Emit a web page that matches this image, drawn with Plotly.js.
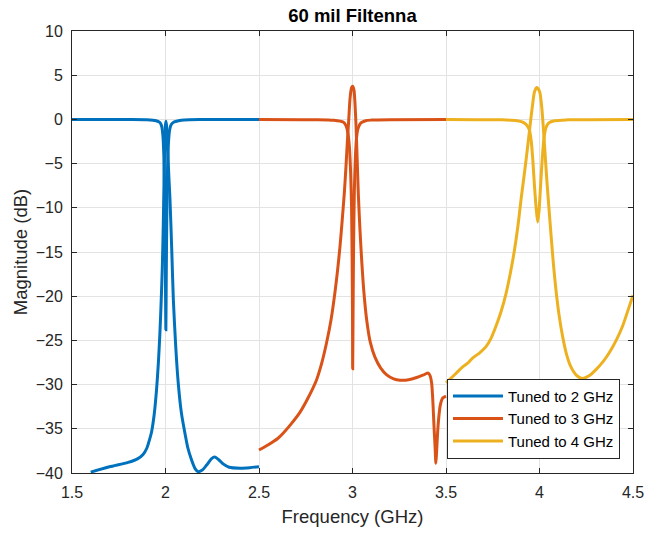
<!DOCTYPE html>
<html>
<head>
<meta charset="utf-8">
<script src="https://cdn.plot.ly/plotly-3.0.1.min.js"></script>
<style>html,body{margin:0;padding:0;background:#fff;}#chart{width:646px;height:534px;}</style>
</head>
<body>
<div id="chart"></div>
<script>
// Tuned to 2 GHz
const f2S11 = [1.5, 1.8, 1.9, 1.95, 1.97, 1.98, 1.986, 1.991, 1.995, 1.998, 2.0, 2.002, 2.004, 2.007, 2.011, 2.016, 2.022, 2.03, 2.045, 2.07, 2.1, 2.2, 2.5];
const m2S11 = [0, -0.02, -0.05, -0.15, -0.35, -0.8, -1.8, -4, -8, -14, -19, -23.8, -18, -11, -5.5, -2.6, -1.2, -0.6, -0.3, -0.15, -0.06, -0.02, 0];
const f2S21 = [1.6, 1.7, 1.8, 1.85, 1.88, 1.9, 1.915, 1.926, 1.94, 1.952, 1.962, 1.97, 1.977, 1.983, 1.988, 1.992, 1.996, 2.0, 2.003, 2.007, 2.012, 2.018, 2.024, 2.033, 2.042, 2.055, 2.068, 2.085, 2.104, 2.12, 2.139, 2.158, 2.175, 2.195, 2.22, 2.245, 2.264, 2.285, 2.31, 2.34, 2.4, 2.45, 2.5];
const m2S21 = [-39.9, -39.3, -38.8, -38.4, -37.9, -37.2, -36.2, -35.3, -33.3, -30.6, -27.5, -24.2, -20.5, -16.7, -12, -7.2, -3, -0.6, -0.2, -1, -3.5, -6.5, -9.1, -14.5, -20.4, -25.8, -29.8, -33.2, -35.5, -37.2, -38.5, -39.5, -39.85, -39.7, -39.1, -38.4, -38.2, -38.5, -39.0, -39.35, -39.45, -39.4, -39.3];

// Tuned to 3 GHz
const f3S11 = [2.5, 2.8, 2.9, 2.95, 2.965, 2.975, 2.983, 2.99, 2.995, 2.998, 3.0, 3.001, 3.003, 3.006, 3.01, 3.016, 3.022, 3.03, 3.045, 3.07, 3.1, 3.2, 3.5];
const m3S11 = [0, -0.03, -0.1, -0.3, -0.7, -1.5, -3, -6, -10, -16, -22, -28.2, -22, -14, -8, -4, -2, -1, -0.4, -0.15, -0.08, -0.03, 0];
const f3S21 = [2.5, 2.55, 2.6, 2.629, 2.67, 2.717, 2.76, 2.807, 2.835, 2.861, 2.885, 2.906, 2.92, 2.933, 2.945, 2.956, 2.965, 2.972, 2.98, 2.987, 2.995, 3.001, 3.008, 3.014, 3.019, 3.025, 3.031, 3.04, 3.049, 3.06, 3.076, 3.095, 3.12, 3.15, 3.183, 3.22, 3.254, 3.3, 3.343, 3.38, 3.405, 3.415, 3.423, 3.428, 3.432, 3.437, 3.441, 3.446, 3.45, 3.455, 3.461, 3.468, 3.476, 3.483, 3.5];
const m3S21 = [-37.4, -36.8, -36.1, -35.5, -34.5, -33.2, -31.6, -29.5, -27.6, -25.3, -22.7, -19.6, -17.1, -14.4, -11.4, -8.4, -5.4, -2.7, 0, 2.4, 3.6, 3.75, 3.3, 1.5, -0.8, -4.5, -8.4, -12.5, -15.9, -19.3, -22.7, -25.2, -26.9, -28.1, -28.9, -29.35, -29.5, -29.45, -29.2, -28.9, -28.7, -29.0, -29.8, -31.2, -32.9, -35.2, -36.8, -38.9, -37.5, -35.5, -33.8, -32.5, -31.8, -31.5, -31.3];

// Tuned to 4 GHz
const f4S11 = [3.5, 3.8, 3.88, 3.91, 3.93, 3.946, 3.956, 3.964, 3.973, 3.982, 3.99, 3.997, 4.003, 4.01, 4.018, 4.026, 4.035, 4.05, 4.08, 4.15, 4.5];
const m4S11 = [0, -0.05, -0.15, -0.3, -0.6, -1.2, -2.5, -4.5, -7.5, -10, -11.6, -10.5, -8.5, -6, -3.5, -1.8, -0.9, -0.4, -0.15, -0.05, 0];
const f4S21 = [3.5, 3.55, 3.589, 3.62, 3.642, 3.68, 3.714, 3.74, 3.767, 3.795, 3.821, 3.845, 3.866, 3.885, 3.901, 3.915, 3.928, 3.942, 3.955, 3.965, 3.973, 3.985, 3.995, 4.003, 4.012, 4.02, 4.029, 4.038, 4.05, 4.061, 4.075, 4.088, 4.105, 4.124, 4.145, 4.168, 4.2, 4.23, 4.265, 4.302, 4.34, 4.373, 4.41, 4.444, 4.47, 4.5];
const m4S21 = [-29.8, -28.8, -28.0, -27.5, -27.0, -26.4, -25.7, -24.8, -23.4, -21.7, -19.7, -17.3, -14.8, -12.0, -9.1, -6.8, -4.6, -2.1, 0.3, 2.0, 3.1, 3.6, 3.4, 2.95, 1.4, -0.8, -3.6, -6.5, -9.9, -12.9, -16.5, -19.3, -22.2, -24.6, -26.6, -28.0, -29.0, -29.3, -29.0, -28.3, -27.4, -26.4, -25.0, -23.4, -21.8, -19.9];

const seriesNames = ['Tuned to 2 GHz', 'Tuned to 3 GHz', 'Tuned to 4 GHz'];
const xTicks = [1.5, 2, 2.5, 3, 3.5, 4, 4.5];
const xTickText = ['1.5', '2', '2.5', '3', '3.5', '4', '4.5'];
const yTicks = [10, 5, 0, -5, -10, -15, -20, -25, -30, -35, -40];

const colors = ['#0072BD', '#D95319', '#EDB120'];
const groups = [
  [f2S11, m2S11, f2S21, m2S21],
  [f3S11, m3S11, f3S21, m3S21],
  [f4S11, m4S11, f4S21, m4S21]
];
const traces = [];
groups.forEach((g, i) => {
  traces.push({x: g[0], y: g[1], type: 'scatter', mode: 'lines', name: seriesNames[i],
    legendgroup: 'g' + i, line: {color: colors[i], width: 3, shape: 'spline', smoothing: 0.7}});
  traces.push({x: g[2], y: g[3], type: 'scatter', mode: 'lines', name: seriesNames[i],
    legendgroup: 'g' + i, showlegend: false, line: {color: colors[i], width: 3, shape: 'spline', smoothing: 0.7}});
});

const FONT = 'Liberation Sans, Arial, Helvetica, sans-serif';
const axisCommon = {
  showline: true, linecolor: '#262626', linewidth: 1, mirror: 'ticks',
  ticks: 'inside', ticklen: 5, tickcolor: '#262626',
  showgrid: true, gridcolor: '#e3e3e3', gridwidth: 1, zeroline: false,
  tickfont: {family: FONT, size: 16, color: '#262626'}
};

const layout = {
  width: 646, height: 534,
  margin: {l: 72, r: 13, t: 31, b: 61},
  paper_bgcolor: '#fff', plot_bgcolor: '#fff',
  title: {text: '<b>60 mil Filtenna</b>', x: 0.5456, xanchor: 'center', yref: 'container', y: 0.971, yanchor: 'middle',
    font: {family: FONT, size: 18.5, color: '#000'}},
  xaxis: Object.assign({}, axisCommon, {
    range: [1.5, 4.5], tickvals: xTicks, ticktext: xTickText, ticklabelstandoff: 5,
    title: {text: 'Frequency (GHz)', standoff: 9, font: {family: FONT, size: 18.5, color: '#262626'}}
  }),
  yaxis: Object.assign({}, axisCommon, {
    range: [-40, 10], tickvals: yTicks, ticklabelstandoff: 5,
    title: {text: 'Magnitude (dB)', standoff: 3, font: {family: FONT, size: 18.5, color: '#262626'}}
  }),
  showlegend: true,
  legend: {x: 0.9768, xanchor: 'right', y: 0.032, yanchor: 'bottom',
    bgcolor: '#fff', bordercolor: '#262626', borderwidth: 1,
    font: {family: FONT, size: 15, color: '#000'},
    itemwidth: 50, tracegroupgap: 0}
};

Plotly.newPlot('chart', traces, layout, {staticPlot: true, displayModeBar: false});
</script>
</body>
</html>
